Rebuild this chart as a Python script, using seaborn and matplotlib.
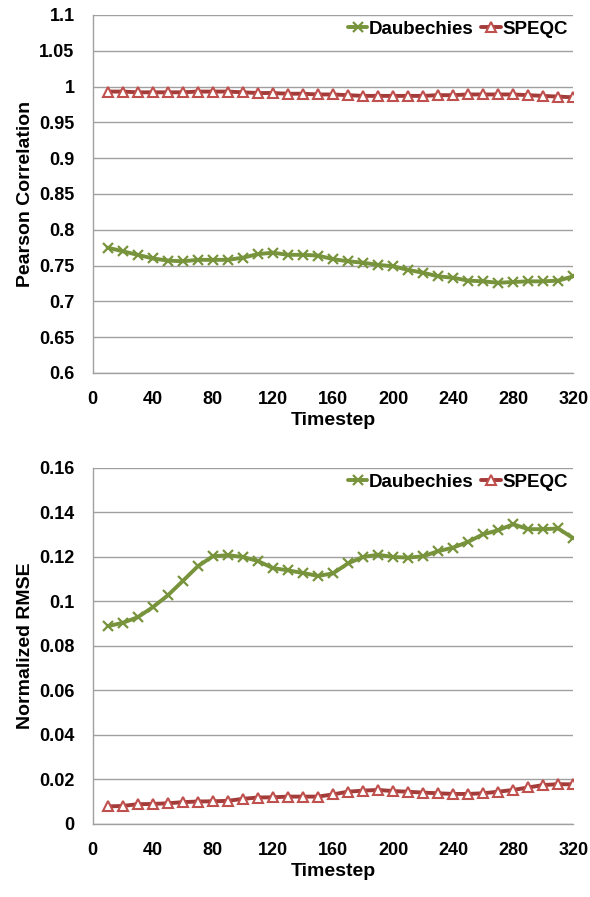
import numpy as np
import pandas as pd
import matplotlib
matplotlib.use("Agg")
import matplotlib.pyplot as plt
import seaborn as sns
from matplotlib.ticker import FuncFormatter

# --------------------------------
# Data
# --------------------------------
timestep = list(range(10, 330, 10))

pearson_daub = [0.775, 0.770, 0.765, 0.760, 0.757, 0.756, 0.758, 0.758, 0.758, 0.761,
                0.766, 0.768, 0.765, 0.765, 0.764, 0.759, 0.756, 0.754, 0.751, 0.749,
                0.744, 0.740, 0.735, 0.733, 0.729, 0.728, 0.726, 0.727, 0.728, 0.728,
                0.729, 0.735]
pearson_speqc = [0.993, 0.993, 0.992, 0.992, 0.992, 0.992, 0.993, 0.993, 0.993, 0.992,
                 0.991, 0.991, 0.990, 0.990, 0.989, 0.989, 0.988, 0.987, 0.987, 0.987,
                 0.987, 0.987, 0.988, 0.988, 0.989, 0.989, 0.989, 0.989, 0.988, 0.987,
                 0.986, 0.985]

rmse_daub = [0.0889, 0.0904, 0.0929, 0.0974, 0.1027, 0.1092, 0.1158, 0.1203, 0.1208, 0.1200,
             0.1182, 0.1150, 0.1140, 0.1128, 0.1115, 0.1126, 0.1171, 0.1200, 0.1210, 0.1200,
             0.1197, 0.1203, 0.1226, 0.1242, 0.1268, 0.1302, 0.1320, 0.1347, 0.1325, 0.1325,
             0.1328, 0.1284]
rmse_speqc = [0.0079, 0.0081, 0.0089, 0.0090, 0.0093, 0.0098, 0.0101, 0.0102, 0.0104, 0.0113,
              0.0119, 0.0120, 0.0123, 0.0123, 0.0123, 0.0133, 0.0145, 0.0150, 0.0153, 0.0148,
              0.0145, 0.0141, 0.0138, 0.0135, 0.0135, 0.0138, 0.0145, 0.0153, 0.0164, 0.0175,
              0.0179, 0.0178]

x_ticks = list(range(0, 321, 40))

GREEN = "#77933C"
RED_LINE = "#A33B39"
RED_MARK = "#C0504D"
GRID = "#A0A0A0"

sns.set_style("white")
plt.rcParams["font.family"] = ["Liberation Sans", "DejaVu Sans"]
plt.rcParams["font.weight"] = "bold"
plt.rcParams["text.color"] = "black"

fig = plt.figure(figsize=(5.9, 8.97), dpi=100)
ax1 = fig.add_axes([0.157, 0.5842, 0.8146, 0.3991])
ax2 = fig.add_axes([0.157, 0.0814, 0.8146, 0.3969])


def draw(ax, daub, speqc, ylim, ystep, ylabel):
    sns.lineplot(x=timestep, y=daub, ax=ax, color=GREEN, lw=2.8,
                 marker="x", markersize=7.5, markeredgewidth=1.6,
                 markeredgecolor=GREEN, label="Daubechies")
    sns.lineplot(x=timestep, y=speqc, ax=ax, color=RED_LINE, lw=2.8,
                 marker="^", markersize=7, markeredgewidth=1.5,
                 markerfacecolor="white", markeredgecolor=RED_MARK,
                 label="SPEQC")
    ax.set_xlim(0, 320)
    ax.set_ylim(*ylim)
    ax.set_xticks(x_ticks)
    ax.set_yticks(np.arange(ylim[0], ylim[1] + ystep / 2, ystep))
    ax.yaxis.set_major_formatter(FuncFormatter(lambda v, p: f"{round(v, 4):g}"))
    ax.grid(axis="y", color=GRID, lw=1)
    ax.set_axisbelow(True)
    for s in ["top", "right"]:
        ax.spines[s].set_visible(False)
    for s in ["left", "bottom"]:
        ax.spines[s].set_color(GRID)
        ax.spines[s].set_linewidth(1)
    ax.tick_params(axis="both", which="major", direction="out", length=4,
                   color=GRID, labelcolor="black", labelsize=13, pad=9)
    for lbl in ax.get_xticklabels() + ax.get_yticklabels():
        lbl.set_fontweight("bold")
    ax.set_xlabel("Timestep", fontsize=14, fontweight="bold", labelpad=3,
                  color="black")
    ax.set_ylabel(ylabel, fontsize=14, fontweight="bold", labelpad=4,
                  color="black")
    leg = ax.legend(loc="upper right", frameon=False, ncol=2, fontsize=13.5,
                    handlelength=1.05, handletextpad=0.05, columnspacing=0.45,
                    borderaxespad=0.3, borderpad=0)
    for t in leg.get_texts():
        t.set_fontweight("bold")
        t.set_color("black")


draw(ax1, pearson_daub, pearson_speqc, (0.6, 1.1), 0.05, "Pearson Correlation")
draw(ax2, rmse_daub, rmse_speqc, (0.0, 0.16), 0.02, "Normalized RMSE")

fig.savefig("out.png", dpi=100)
